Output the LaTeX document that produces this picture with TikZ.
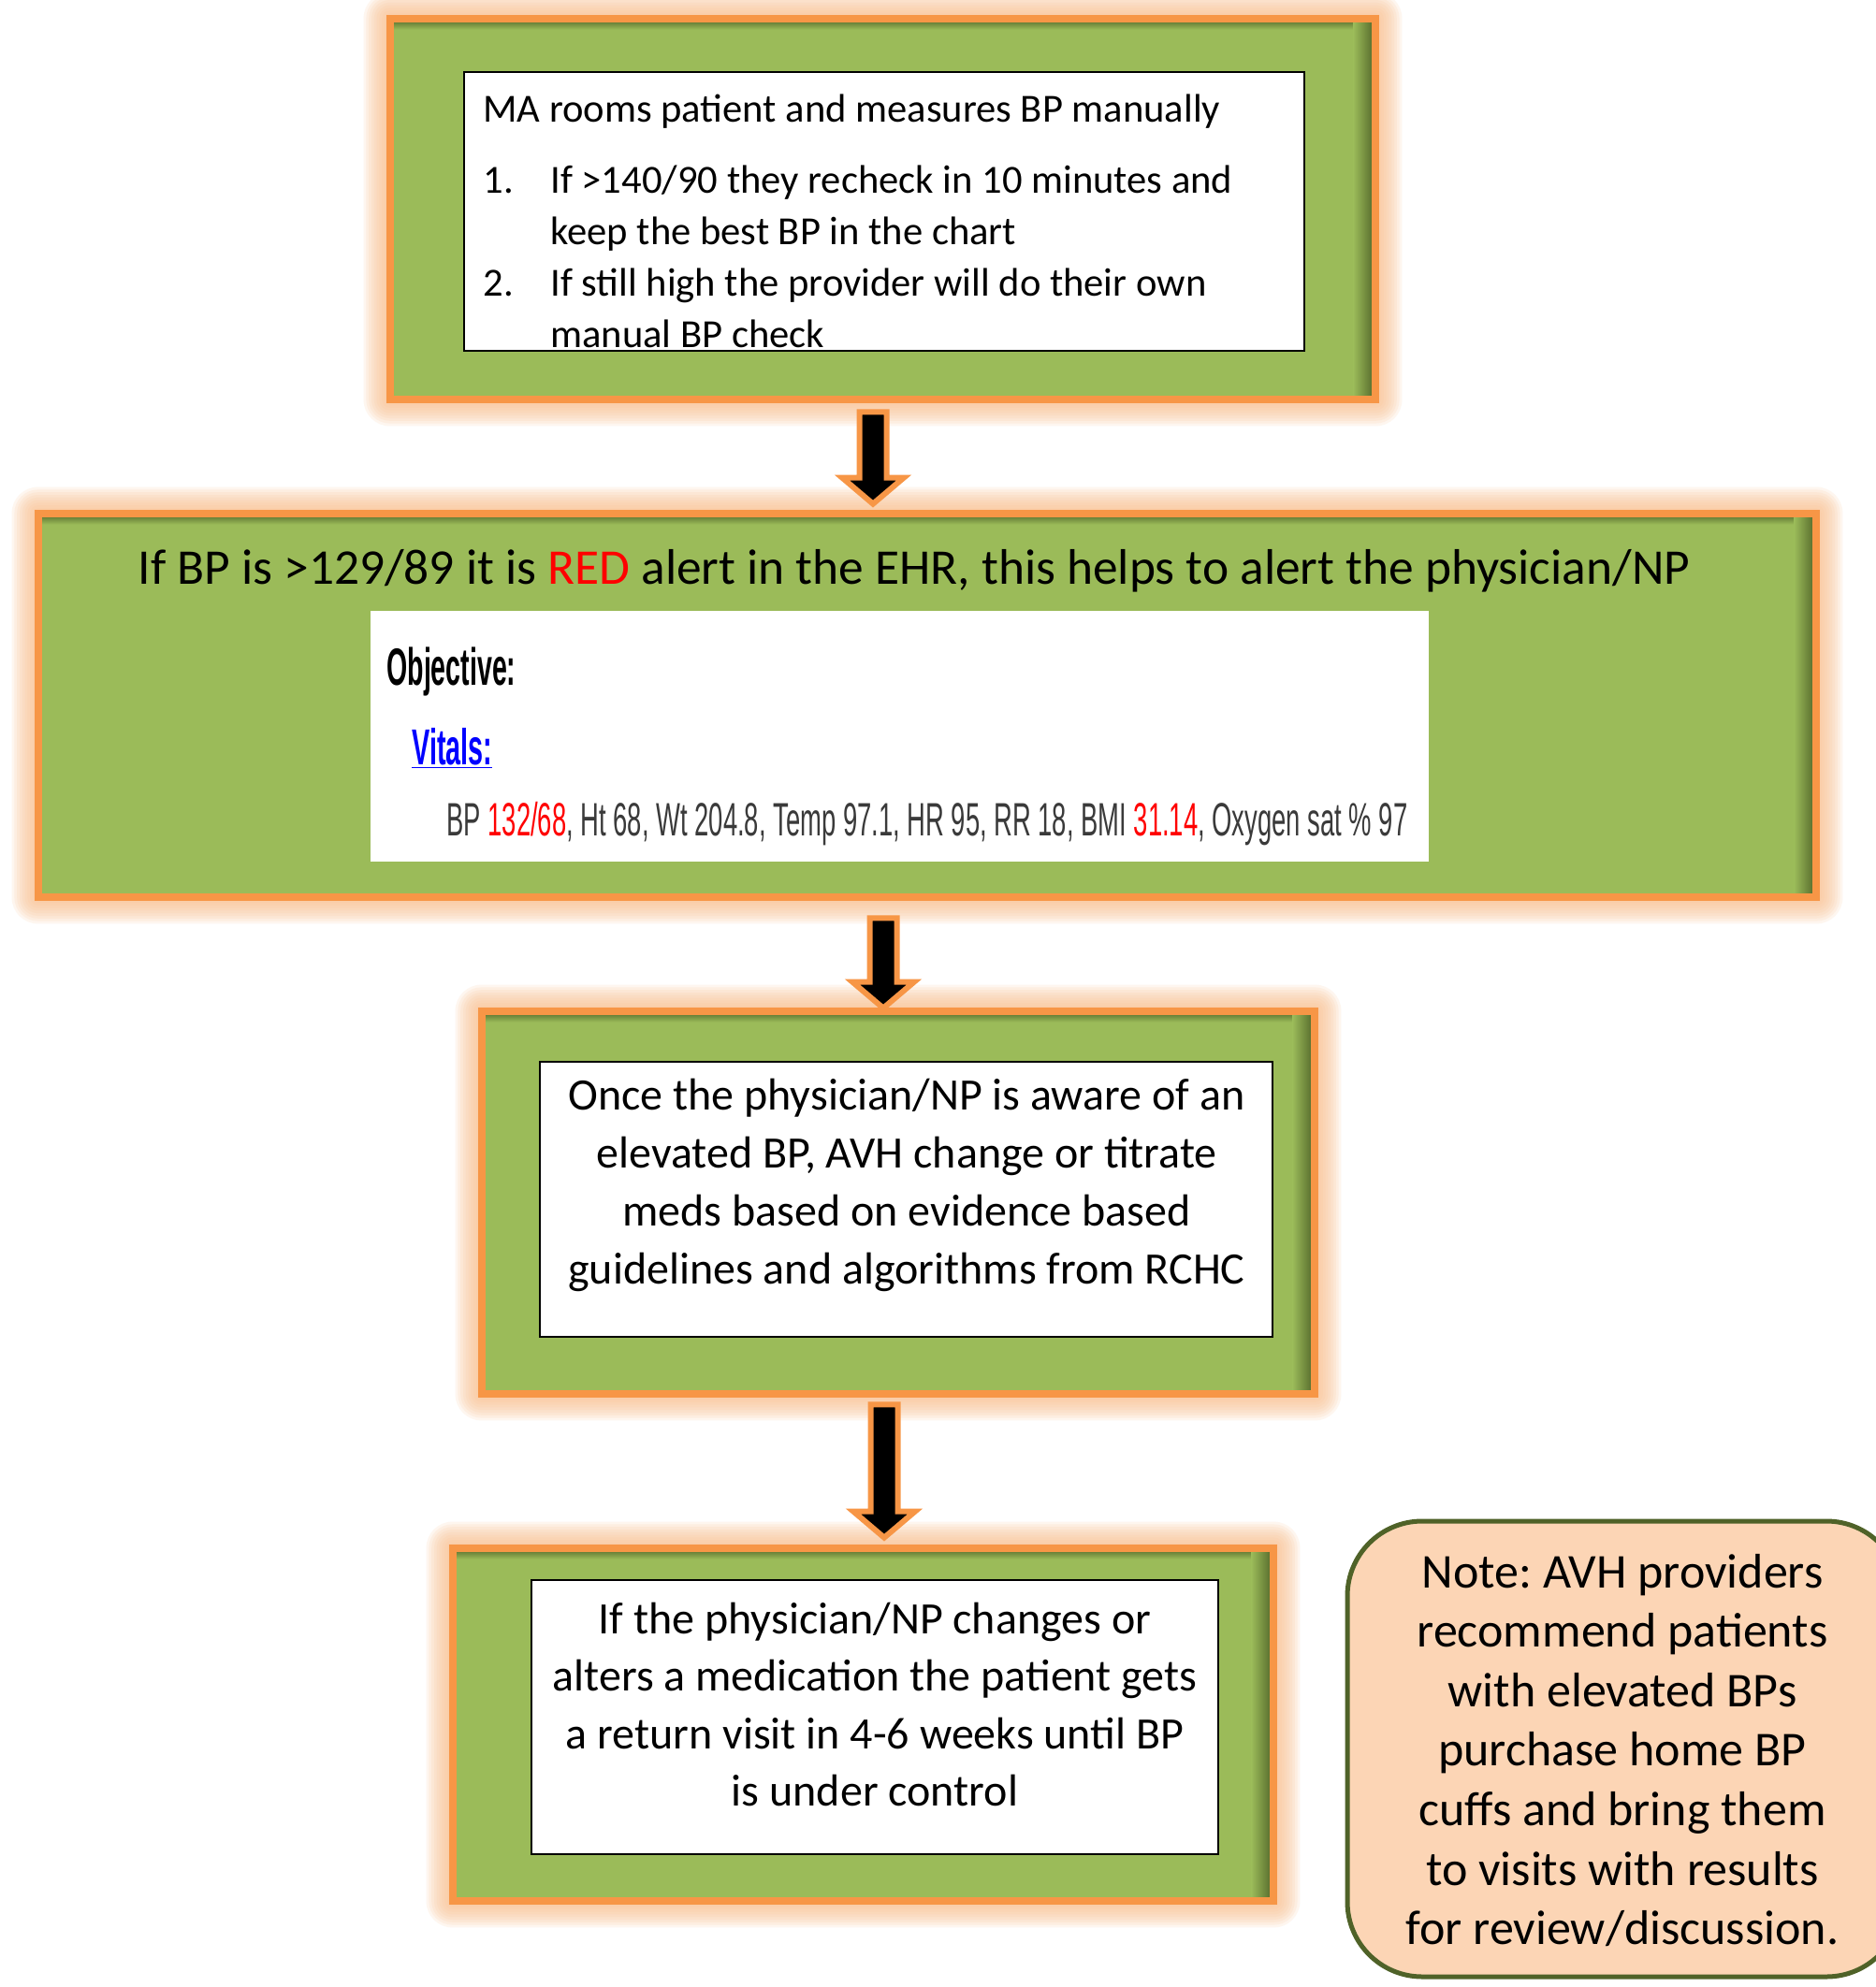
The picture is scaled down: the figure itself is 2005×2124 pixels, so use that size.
\documentclass[tikz,border=0pt]{standalone}
\usepackage{fontspec}
\setmainfont{Carlito}
\newfontfamily\ehrfont{Liberation Sans}
\usepackage{tikz}
\usetikzlibrary{calc,fit,backgrounds,positioning}
\definecolor{boxgreen}{HTML}{9BBB59}
\definecolor{shadegreen}{HTML}{4F6228}
\definecolor{boxorange}{HTML}{F79646}
\definecolor{glow}{HTML}{FAC090}
\definecolor{notefill}{HTML}{FCD5B5}
\definecolor{alertred}{HTML}{FF0000}
\definecolor{ehrgray}{HTML}{3A3A3A}
\definecolor{linkblue}{HTML}{0000FF}
\frenchspacing

\begin{document}
\begin{tikzpicture}[x=0.5pt, y=-0.5pt]
	\tikzstyle{greenbox}=[fill=boxgreen, inner sep=0pt]
	\tikzstyle{whitebox}=[fill=white, draw=black, line width=0.8pt, inner sep=0pt]
	\tikzstyle{bodytext}=[align=center, inner sep=0pt, font=\fontsize{24}{31}\selectfont]
	\tikzstyle{notebox}=[fill=notefill, draw=shadegreen, line width=2.5pt, rounded corners=40pt, inner sep=0pt]
	\tikzstyle{ehrtext}=[anchor=west, inner sep=0pt, font=\ehrfont]
	\tikzstyle{blockarrow}=[fill=black, draw=boxorange, line width=3pt, to path={let \p1=(\tikztostart), \p2=(\tikztotarget) in (\x1-7.25pt,\y1) -- (\x1+7.25pt,\y1) -- (\x1+7.25pt,\y2+14pt) -- (\x1+16.5pt,\y2+14pt) -- (\x2,\y2) -- (\x1-16.5pt,\y2+14pt) -- (\x1-7.25pt,\y2+14pt) -- cycle}]
	\useasboundingbox (0,0) rectangle (2005,2124);

	\node[greenbox, fit={(417,20) (1470,427)}]   (box1) {};
	\node[greenbox, fit={(41,549) (1941,959)}]   (box2) {};
	\node[greenbox, fit={(515,1081) (1405,1490)}] (box3) {};
	\node[greenbox, fit={(484,1655) (1361,2032)}] (box4) {};
	\foreach \b in {box1,box2,box3,box4}{
		\shade[top color=shadegreen, bottom color=boxgreen] (\b.north west) rectangle ([yshift=-6pt]\b.north east);
		\shade[left color=boxgreen, right color=shadegreen] ([xshift=-12pt]\b.north east) rectangle (\b.south east);
		\draw[boxorange, line width=4pt] (\b.north west) rectangle (\b.south east);
	}
	\begin{scope}[on background layer]
		\fill[white] (0,0) rectangle (2005,2124);
		\foreach \b in {box1,box2,box3,box4}
			\foreach \i in {1,...,10}{
				\pgfmathsetmacro\r{1.4*\i}
				\fill[glow, opacity=0.14, rounded corners=\r pt] ([shift={(-\r pt,\r pt)}]\b.north west) rectangle ([shift={(\r pt,-\r pt)}]\b.south east);
			}
	\end{scope}

	\node[whitebox, fit={(496,77) (1394,375)}] (w1) {};
	\node[anchor=west, align=left, inner sep=0pt, font=\fontsize{21.3}{27.5}\selectfont] (steps) at (516,236) {MA rooms patient and measures BP manually\\[10.5pt]
		\makebox[36pt][l]{1.}If >140/90 they recheck in 10 minutes and\\
		\hspace*{36pt}keep the best BP in the chart\\
		\makebox[36pt][l]{2.}If still high the provider will do their own\\
		\hspace*{36pt}manual BP check};

	\node[inner sep=0pt, font=\fontsize{26.7}{32}\selectfont] (alert) at (977,610) {If BP is >129/89 it is \textcolor{alertred}{RED} alert in the EHR, this helps to alert the physician/NP};
	\node[fill=white, inner sep=0pt, fit={(396,653) (1527,921)}] (ehr) {};
	\node[ehrtext, font=\ehrfont\fontsize{28}{32}\selectfont] (objective) at (413,718) {\resizebox{69pt}{\height}{\textbf{Objective:}}};
	\node[ehrtext, font=\ehrfont\fontsize{27}{30}\selectfont, text=linkblue] (vitals) at (440,800) {\resizebox{43pt}{\height}{\underline{\textbf{Vitals:}}}};
	\node[ehrtext, font=\ehrfont\fontsize{25}{28}\selectfont, text=ehrgray] (vitalsline) at (477,881) {\resizebox{513.5pt}{\height}{BP \textcolor{alertred}{132/68}, Ht 68, Wt 204.8, Temp 97.1, HR 95, RR 18, BMI \textcolor{alertred}{31.14}, Oxygen sat \% 97}};

	\node[whitebox, fit={(577,1135) (1360,1429)}] (w3) {};
	\node[bodytext] (review) at (969,1267) {Once the physician/NP is aware of an\\ elevated BP, AVH change or titrate\\ meds based on evidence based\\ guidelines and algorithms from RCHC};

	\node[whitebox, fit={(568,1689) (1302,1982)}] (w4) {};
	\node[bodytext, font=\fontsize{24}{30.6}\selectfont] (followup) at (935,1822) {If the physician/NP changes or\\ alters a medication the patient gets\\ a return visit in 4-6 weeks until BP\\ is under control};

	\node[notebox, fit={(1440,1626) (2032,2113)}] (note) {};
	\node[align=center, inner sep=0pt, font=\fontsize{26}{31.8}\selectfont] (notetext) at (1734,1871) {Note: AVH providers\\ recommend patients\\ with elevated BPs\\ purchase home BP\\ cuffs and bring them\\ to visits with results\\ for review/discussion.};

	\draw[blockarrow] ($(box1.south)+(-10.5,13)$) to ($(box1.south |- box2.north)+(-10.5,-10)$);
	\draw[blockarrow] ($(box3.north |- box2.south)+(-16,22)$) to ($(box3.north)+(-16,-3)$);
	\draw[blockarrow] ($(box3.south)+(-15,11)$) to ($(box3.south |- box4.north)+(-15,-11)$);
\end{tikzpicture}
\end{document}
